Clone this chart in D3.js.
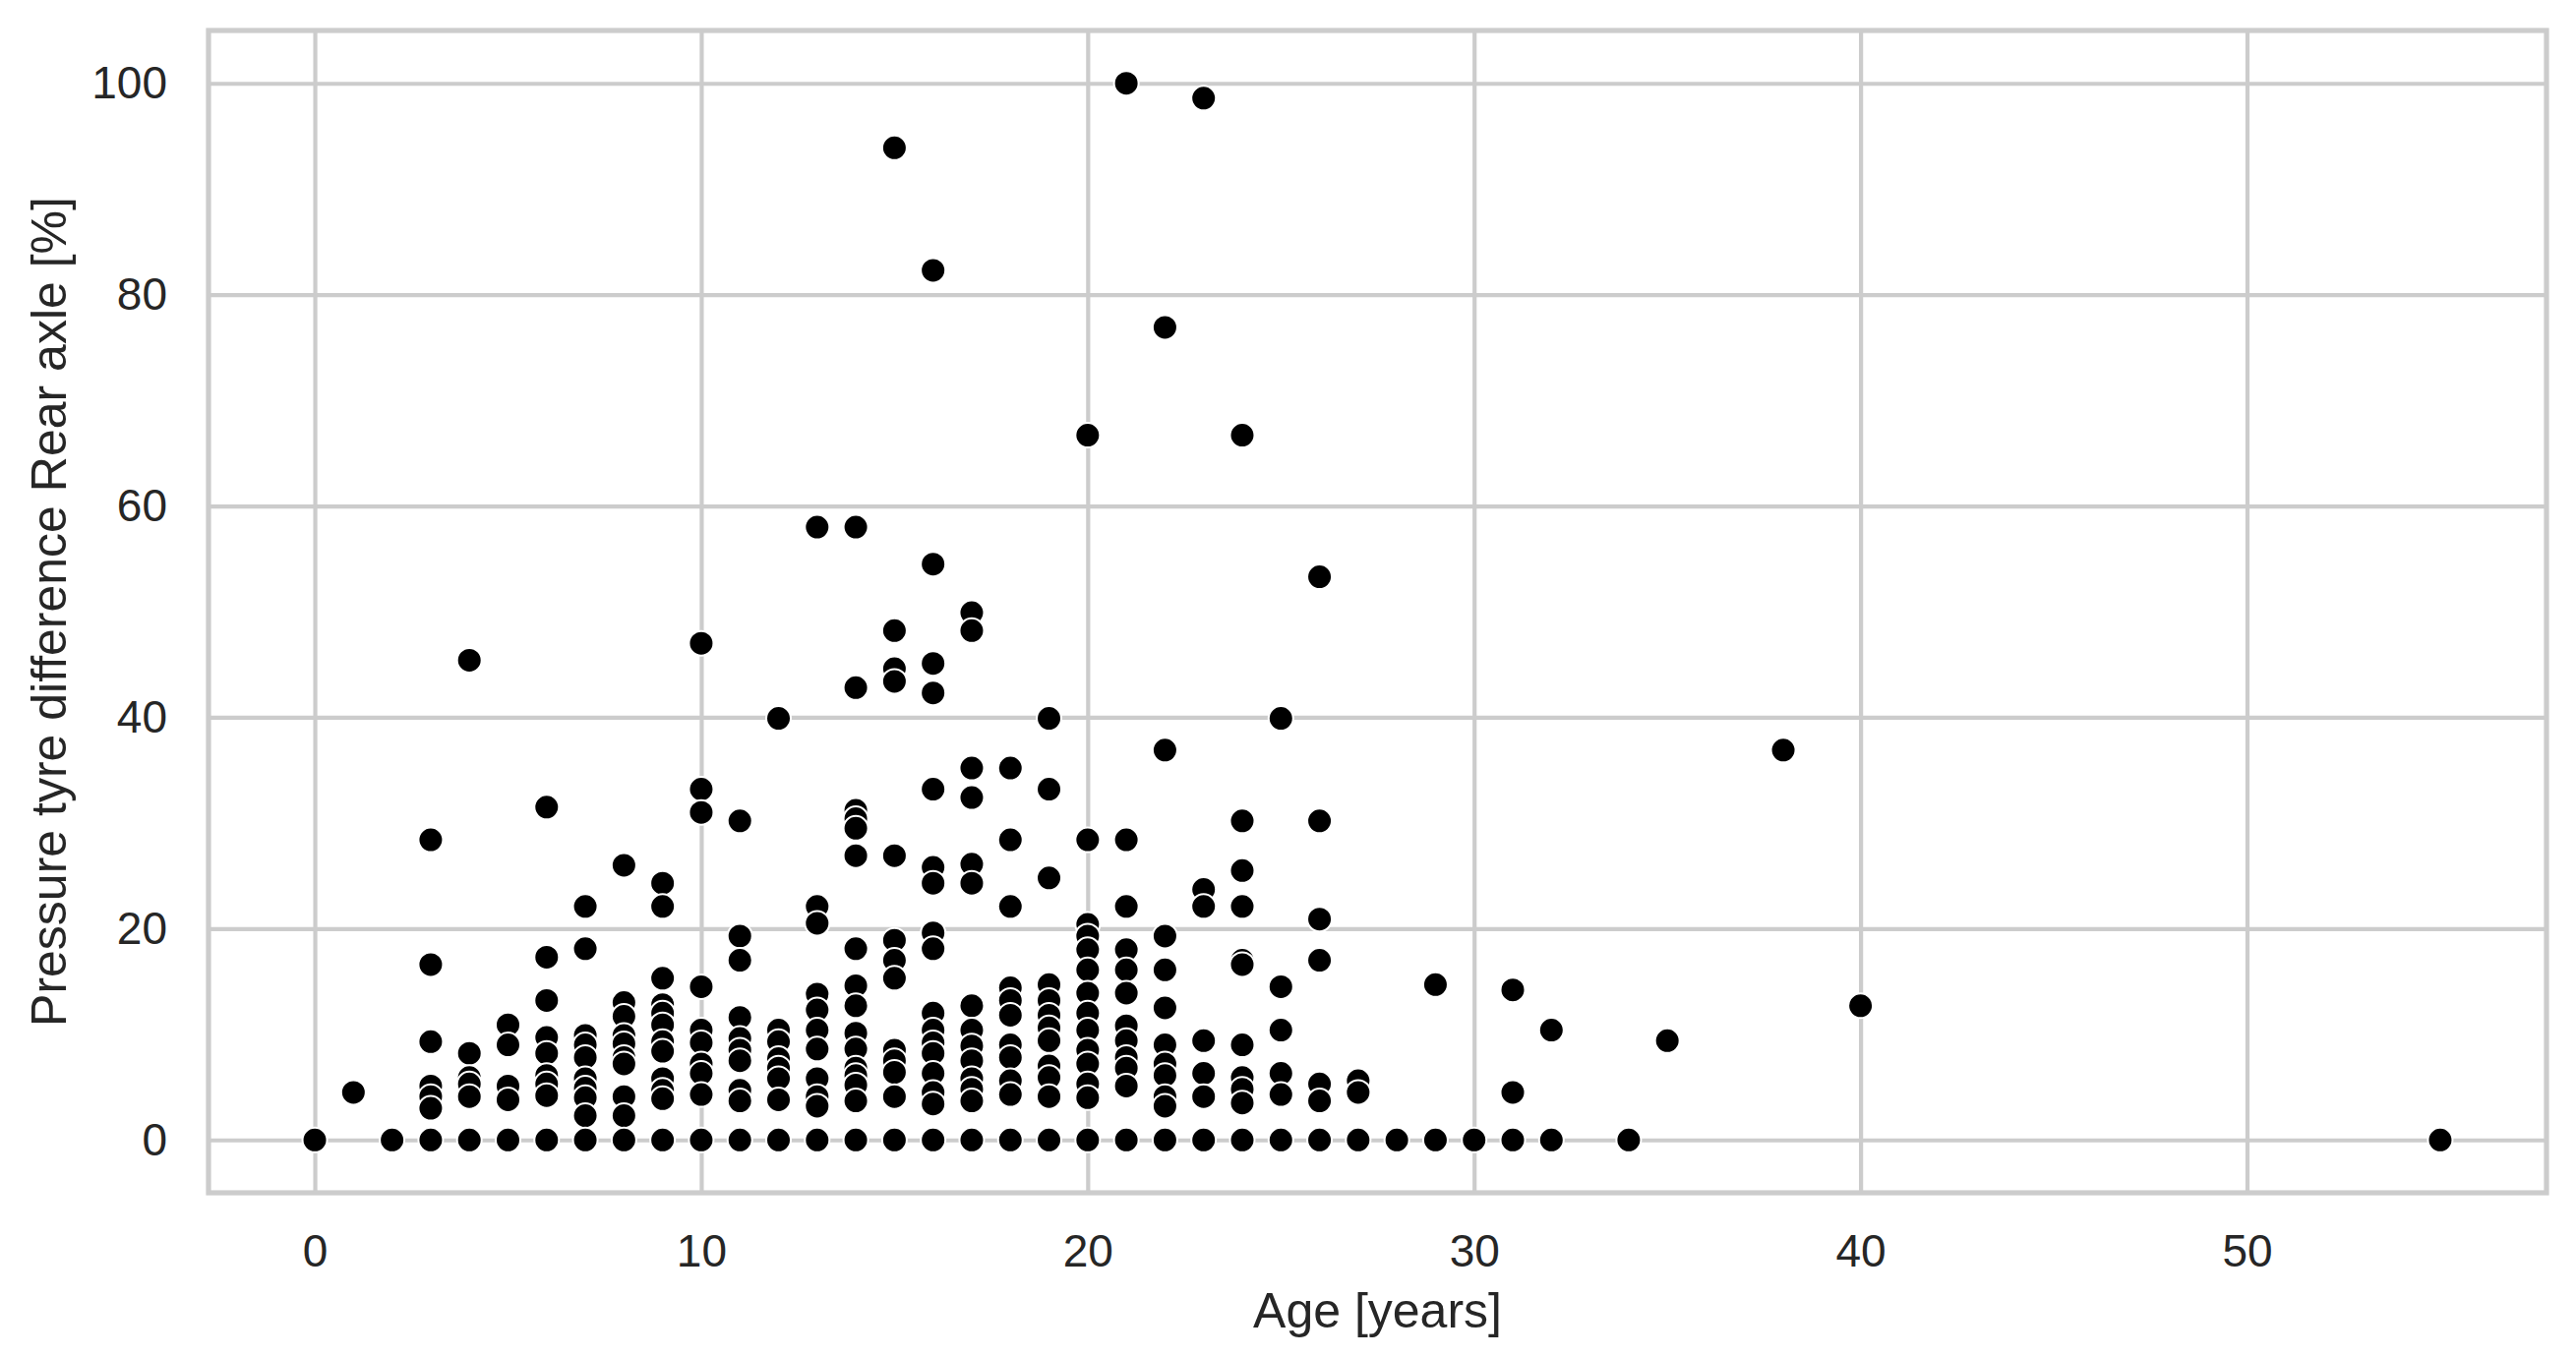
<!DOCTYPE html>
<html>
<head>
<meta charset="utf-8">
<script src="https://cdn.jsdelivr.net/npm/d3@7"></script>
<style>
  html, body { margin: 0; padding: 0; background: #ffffff; }
  svg { display: block; }
</style>
</head>
<body>
<script>
// ---- Data ----
const xTicks = [0, 10, 20, 30, 40, 50];
const yTicks = [0, 20, 40, 60, 80, 100];
const xLabel = "Age [years]";
const yLabel = "Pressure tyre difference Rear axle [%]";

const ages = [
  0,
  1,
  2,
  3,3,3,3,3,3,3,
  4,4,4,4,4,4,
  5,5,5,5,5,
  6,6,6,6,6,6,6,6,6,
  7,7,7,7,7,7,7,7,7,7,
  8,8,8,8,8,8,8,8,8,8,
  9,9,9,9,9,9,9,9,9,9,9,9,
  10,10,10,10,10,10,10,10,10,10,
  11,11,11,11,11,11,11,11,11,11,
  12,12,12,12,12,12,12,12,
  13,13,13,13,13,13,13,13,13,13,13,
  14,14,14,14,14,14,14,14,14,14,14,14,14,14,14,14,
  15,15,15,15,15,15,15,15,15,15,15,15,15,
  16,16,16,16,16,16,16,16,16,16,16,16,16,16,16,16,16,
  17,17,17,17,17,17,17,17,17,17,17,17,17,17,
  18,18,18,18,18,18,18,18,18,18,18,
  19,19,19,19,19,19,19,19,19,19,19,19,
  20,20,20,20,20,20,20,20,20,20,20,20,20,20,
  21,21,21,21,21,21,21,21,21,21,21,21,
  22,22,22,22,22,22,22,22,22,22,22,
  23,23,23,23,23,23,23,
  24,24,24,24,24,24,24,24,24,24,24,
  25,25,25,25,25,25,
  26,26,26,26,26,26,26,
  27,27,27,
  28,
  29,29,
  30,
  31,31,31,
  32,32,
  34,
  35,
  38,
  40,
  55
];

const rearDiff = [
  0,
  4.5,
  0,
  28.4,16.6,9.3,5.1,4.1,3.0,0,
  45.4,8.2,5.9,5.3,4.1,0,
  10.9,9.0,5.1,3.8,0,
  31.5,17.3,13.2,9.7,8.2,6.1,5.3,4.2,0,
  22.1,18.1,9.9,9.0,7.8,5.8,4.9,4.0,2.3,0,
  26.0,13.0,11.7,9.9,9.1,7.8,7.2,4.1,2.3,0,
  24.3,22.1,15.3,12.8,12.0,10.9,9.3,8.4,5.8,4.7,3.9,0,
  47.0,33.2,31.0,14.5,10.4,9.2,7.2,6.3,4.3,0,
  30.2,19.3,17.0,11.6,9.6,8.5,7.5,4.7,3.7,0,
  39.9,10.4,9.3,7.7,6.8,5.8,3.8,0,
  58.0,22.1,20.5,13.8,12.3,10.4,8.6,5.8,4.1,3.2,0,
  58.0,42.8,31.2,30.4,29.5,26.9,18.1,14.6,12.7,10.1,8.6,6.8,6.1,5.2,3.7,0,
  93.9,48.2,44.6,43.4,26.9,18.9,17.0,15.3,8.5,7.5,6.4,4.1,0,
  82.3,54.5,45.1,42.3,33.2,25.8,24.3,19.6,18.1,12.0,10.4,9.2,8.2,6.3,4.5,3.4,0,
  49.9,48.2,35.2,32.4,26.1,24.3,12.7,10.4,8.9,7.5,5.8,4.8,3.7,0,
  35.2,28.4,22.1,14.4,13.2,11.8,9.0,7.8,5.6,4.3,0,
  39.9,33.2,24.8,14.7,13.2,11.8,10.6,9.4,7.0,5.9,4.1,0,
  66.7,28.4,20.4,19.3,18.0,16.1,13.9,12.0,10.4,8.5,7.2,5.3,4.0,0,
  100,28.4,22.1,18.0,16.1,13.9,10.8,9.4,7.8,6.8,5.1,0,
  76.9,36.9,19.3,16.1,12.5,9.0,7.2,6.1,4.1,3.2,0,
  98.6,23.7,22.1,9.4,6.3,4.1,0,
  66.7,30.2,25.5,22.1,17.0,16.6,9.0,5.9,4.8,3.5,0,
  39.9,14.5,10.4,6.3,4.3,0,
  53.3,30.2,20.9,17.0,5.3,3.7,0,
  5.6,4.5,0,
  0,
  14.7,0,
  0,
  14.2,4.5,0,
  10.4,0,
  0,
  9.4,
  36.9,
  12.7,
  0
];

// ---- Layout ----
const W = 2619, H = 1380;
const plot = { left: 212, right: 2589, top: 31, bottom: 1213 };
const gridColor = "#cccccc";
const textColor = "#262626";
const fontFamily = "'Liberation Sans', Arial, Helvetica, sans-serif";

const svg = d3.select("body").append("svg")
  .attr("width", W).attr("height", H)
  .attr("viewBox", `0 0 ${W} ${H}`);

svg.append("rect").attr("width", W).attr("height", H).attr("fill", "#ffffff");

const x = d3.scaleLinear().domain([-2.75, 57.75]).range([plot.left, plot.right]);
const y = d3.scaleLinear().domain([-5, 105]).range([plot.bottom, plot.top]);

// Grid via axes
const gx = svg.append("g")
  .attr("transform", `translate(0,${plot.bottom})`)
  .call(d3.axisBottom(x).tickValues(xTicks).tickSize(-(plot.bottom - plot.top)).tickPadding(42).tickFormat(d3.format("d")));
gx.select(".domain").remove();
gx.selectAll(".tick line").attr("stroke", gridColor).attr("stroke-width", 4.2);
gx.selectAll(".tick text")
  .attr("fill", textColor).attr("font-family", fontFamily).attr("font-size", 46)
  .attr("dy", "0.71em");

const gy = svg.append("g")
  .attr("transform", `translate(${plot.left},0)`)
  .call(d3.axisLeft(y).tickValues(yTicks).tickSize(-(plot.right - plot.left)).tickPadding(42).tickFormat(d3.format("d")));
gy.select(".domain").remove();
gy.selectAll(".tick line").attr("stroke", gridColor).attr("stroke-width", 4.2);
gy.selectAll(".tick text")
  .attr("fill", textColor).attr("font-family", fontFamily).attr("font-size", 46);

// Frame (spines)
svg.append("rect")
  .attr("x", plot.left).attr("y", plot.top)
  .attr("width", plot.right - plot.left).attr("height", plot.bottom - plot.top)
  .attr("fill", "none").attr("stroke", gridColor).attr("stroke-width", 5.2);

// Points
const pts = ages.map((a, i) => ({ age: a, v: rearDiff[i] }));
svg.append("g").selectAll("circle").data(pts).join("circle")
  .attr("cx", d => x(d.age))
  .attr("cy", d => y(d.v))
  .attr("r", 12.5)
  .attr("fill", "#000000")
  .attr("stroke", "#ffffff")
  .attr("stroke-width", 2);

// Axis labels
svg.append("text")
  .attr("x", (plot.left + plot.right) / 2).attr("y", 1350)
  .attr("text-anchor", "middle")
  .attr("fill", textColor).attr("font-family", fontFamily).attr("font-size", 50)
  .text(xLabel);

svg.append("text")
  .attr("transform", `translate(67,${(plot.top + plot.bottom) / 2}) rotate(-90)`)
  .attr("text-anchor", "middle")
  .attr("fill", textColor).attr("font-family", fontFamily).attr("font-size", 50)
  .text(yLabel);
</script>
</body>
</html>
